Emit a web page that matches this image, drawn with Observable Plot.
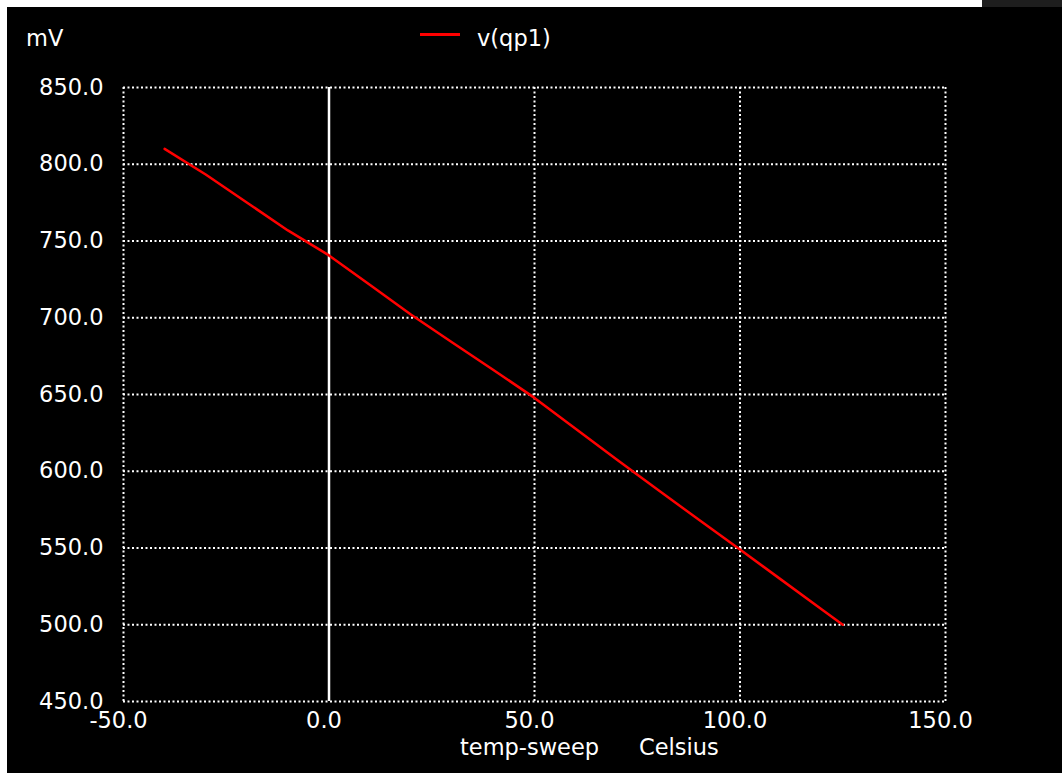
<!DOCTYPE html>
<html>
<head>
<meta charset="utf-8">
<script src="https://cdn.jsdelivr.net/npm/d3@7"></script>
<script src="https://cdn.jsdelivr.net/npm/@observablehq/plot@0.6"></script>
<style>
  html, body { margin: 0; padding: 0; background: #fff; }
  #wrap { position: relative; width: 1062px; height: 775px; overflow: hidden; font-family: "DejaVu Sans", sans-serif; }
  #panel { position: absolute; left: 7px; top: 7px; width: 1055px; height: 766px; background: #000; }
  #corner { position: absolute; left: 982px; top: 0; width: 80px; height: 7px; background: #1e1e1e; }
  #chart { position: absolute; left: 0; top: 0; }
  .txt { position: absolute; color: #fff; font-size: 22.5px; line-height: 1; white-space: pre; }
  #legline { position: absolute; left: 420px; top: 33px; width: 40px; height: 3px; background: #f00; }
</style>
</head>
<body>
<div id="wrap">
  <div id="panel"></div>
  <div id="corner"></div>
  <div id="chart"></div>
  <div class="txt" id="unit" style="left:26px; top:27px;">mV</div>
  <div id="legline"></div>
  <div class="txt" id="legtxt" style="left:477px; top:27px;">v(qp1)</div>
  <div class="txt" id="xl1" style="left:460px; top:736px;">temp-sweep</div>
  <div class="txt" id="xl2" style="left:639px; top:736px;">Celsius</div>
</div>
<script>
// Series: temperature (°C) and v(qp1) (mV)
const temps = [-40, -30, -20, -10, 0, 10, 20, 30, 40, 50, 60, 70, 80, 90, 100, 110, 120, 125];
const vqp1  = [810, 793.3, 775.1, 756.9, 740.6, 721.3, 701.9, 683.9, 666.0, 647.8, 627.7, 607.6, 587.9, 568.4, 549.0, 529.4, 509.8, 500];
// Axis ticks
const xTicks = [-50, 0, 50, 100, 150];
const yTicks = [450, 500, 550, 600, 650, 700, 750, 800, 850];

const data = temps.map((t, i) => ({t, v: vqp1[i]}));
const dots = {stroke: "#fff", strokeOpacity: 1, strokeWidth: 2, strokeDasharray: "2,2.5"};

const chart = Plot.plot({
  width: 1062,
  height: 775,
  marginLeft: 123,
  marginRight: 117,
  marginTop: 87,
  marginBottom: 74,
  style: {background: "transparent", color: "#fff", fontFamily: "DejaVu Sans", fontSize: "22.5px", overflow: "visible"},
  x: {domain: [-50, 150], label: null},
  y: {domain: [450, 850], label: null},
  marks: [
    Plot.gridX(xTicks, dots),
    Plot.gridY(yTicks, dots),
    Plot.ruleX([0], {stroke: "#fff", strokeWidth: 2.5}),
    Plot.line(data, {x: "t", y: "v", stroke: "#f00", strokeWidth: 2.5}),
    Plot.axisX(xTicks, {tickSize: 0, tickPadding: 11, dx: -5, tickFormat: d => d.toFixed(1), label: null, fill: "#fff"}),
    Plot.axisY(yTicks, {tickSize: 0, tickPadding: 20, tickFormat: d => d.toFixed(1), label: null, fill: "#fff"})
  ]
});
document.getElementById("chart").appendChild(chart);
</script>
</body>
</html>
